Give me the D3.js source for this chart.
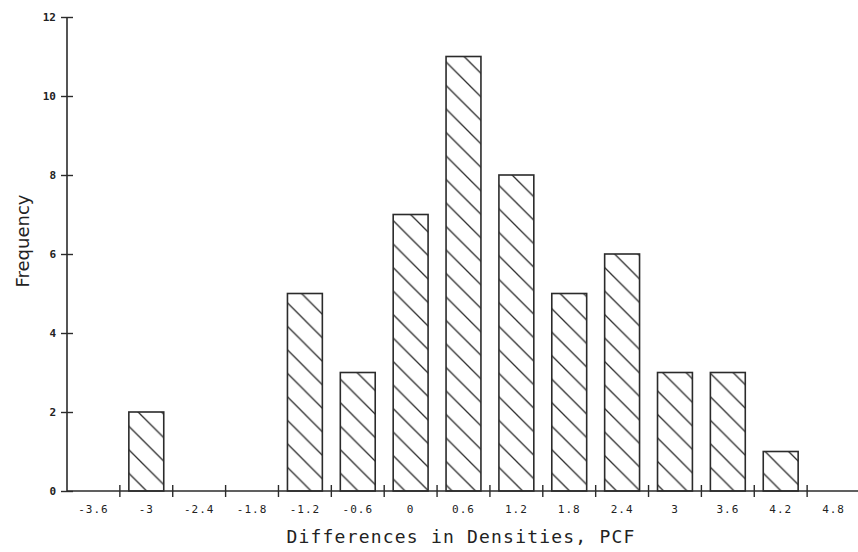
<!DOCTYPE html>
<html>
<head>
<meta charset="utf-8">
<script src="https://cdn.jsdelivr.net/npm/d3@7"></script>
<style>
  html, body { margin: 0; padding: 0; background: #fff; }
  svg { display: block; }
  text { font-family: "DejaVu Sans Mono", monospace; fill: #222; }
</style>
</head>
<body>
<svg id="chart" width="858" height="552"></svg>
<script>
// Histogram bins (bin centres, PCF) and their frequencies
const binLabels = ["-3.6", "-3", "-2.4", "-1.8", "-1.2", "-0.6", "0", "0.6", "1.2", "1.8", "2.4", "3", "3.6", "4.2", "4.8"];
const frequencies = [0, 2, 0, 0, 5, 3, 7, 11, 8, 5, 6, 3, 3, 1, 0];
const yTicks = [0, 2, 4, 6, 8, 10, 12];
const xTitle = "Differences in Densities, PCF";
const yTitle = "Frequency";

const svg = d3.select("#chart");
const ink = "#2b2b2b";

const plotLeft = 67, plotRight = 860, plotBottom = 491, plotTop = 17;

const x = d3.scaleBand()
  .domain(binLabels)
  .range([plotLeft, plotRight])
  .paddingInner(0.34)
  .paddingOuter(0.17);

const y = d3.scaleLinear().domain([0, 12]).range([plotBottom, plotTop]);

// Diagonal hatch fill shared by all bars
const hatch = 23.5;
const defs = svg.append("defs");
const pat = defs.append("pattern")
  .attr("id", "hatch")
  .attr("patternUnits", "userSpaceOnUse")
  .attr("width", hatch)
  .attr("height", hatch)
  .attr("patternTransform", "translate(0,15.4)");
pat.append("path")
  .attr("d", `M-2,-2 L${hatch + 2},${hatch + 2} M${hatch - 2},-2 L${hatch + 2},2 M-2,${hatch - 2} L2,${hatch + 2}`)
  .attr("stroke", ink)
  .attr("stroke-width", 1.3)
  .attr("fill", "none");

// Bars
const data = binLabels.map((b, i) => ({ bin: b, value: frequencies[i] })).filter(d => d.value > 0);
svg.append("g")
  .selectAll("rect")
  .data(data)
  .join("rect")
  .attr("x", d => x(d.bin))
  .attr("y", d => y(d.value))
  .attr("width", x.bandwidth())
  .attr("height", d => y(0) - y(d.value))
  .attr("fill", "url(#hatch)")
  .attr("stroke", ink)
  .attr("stroke-width", 1.6);

// Y axis
const yAxis = svg.append("g")
  .attr("transform", `translate(${plotLeft},0)`)
  .call(d3.axisLeft(y).tickValues(yTicks).tickFormat(d3.format("d")).tickSize(6).tickPadding(6));
yAxis.select(".domain").attr("stroke", ink).attr("stroke-width", 1.6).attr("d", `M0,${y(12)}V${y(0)}`);
yAxis.selectAll(".tick line").attr("stroke", ink).attr("stroke-width", 1.4).attr("x1", 6).attr("x2", -6);
yAxis.selectAll(".tick text")
  .attr("x", -11)
  .style("font-family", "'DejaVu Sans Mono', monospace")
  .style("font-size", "11px")
  .style("font-weight", "bold")
  .attr("fill", ink);

// X axis baseline
svg.append("line")
  .attr("x1", plotLeft).attr("x2", 858)
  .attr("y1", plotBottom).attr("y2", plotBottom)
  .attr("stroke", ink).attr("stroke-width", 1.6);

// Bin boundary ticks
const step = x.step();
const boundaries = binLabels.slice(0, -1).map(b => x(b) + x.bandwidth() / 2 + step / 2);
svg.append("g")
  .selectAll("line")
  .data(boundaries)
  .join("line")
  .attr("x1", d => d).attr("x2", d => d)
  .attr("y1", plotBottom - 6).attr("y2", plotBottom + 6)
  .attr("stroke", ink).attr("stroke-width", 1.4);

// Bin centre labels
const xAxis = svg.append("g")
  .attr("transform", `translate(0,${plotBottom})`)
  .call(d3.axisBottom(x).tickSize(0).tickPadding(14));
xAxis.select(".domain").remove();
xAxis.selectAll(".tick text")
  .style("font-family", "'DejaVu Sans Mono', monospace")
  .style("font-size", "11px")
  .style("letter-spacing", "1px")
  .attr("fill", ink);

// Axis titles
svg.append("text")
  .attr("x", 461)
  .attr("y", 543)
  .attr("text-anchor", "middle")
  .style("font-size", "18px")
  .style("letter-spacing", "1.2px")
  .text(xTitle);

svg.append("text")
  .attr("transform", "translate(29,241) rotate(-90)")
  .attr("text-anchor", "middle")
  .style("font-family", "'DejaVu Sans', sans-serif")
  .style("font-size", "18px")
  .text(yTitle);
</script>
</body>
</html>
